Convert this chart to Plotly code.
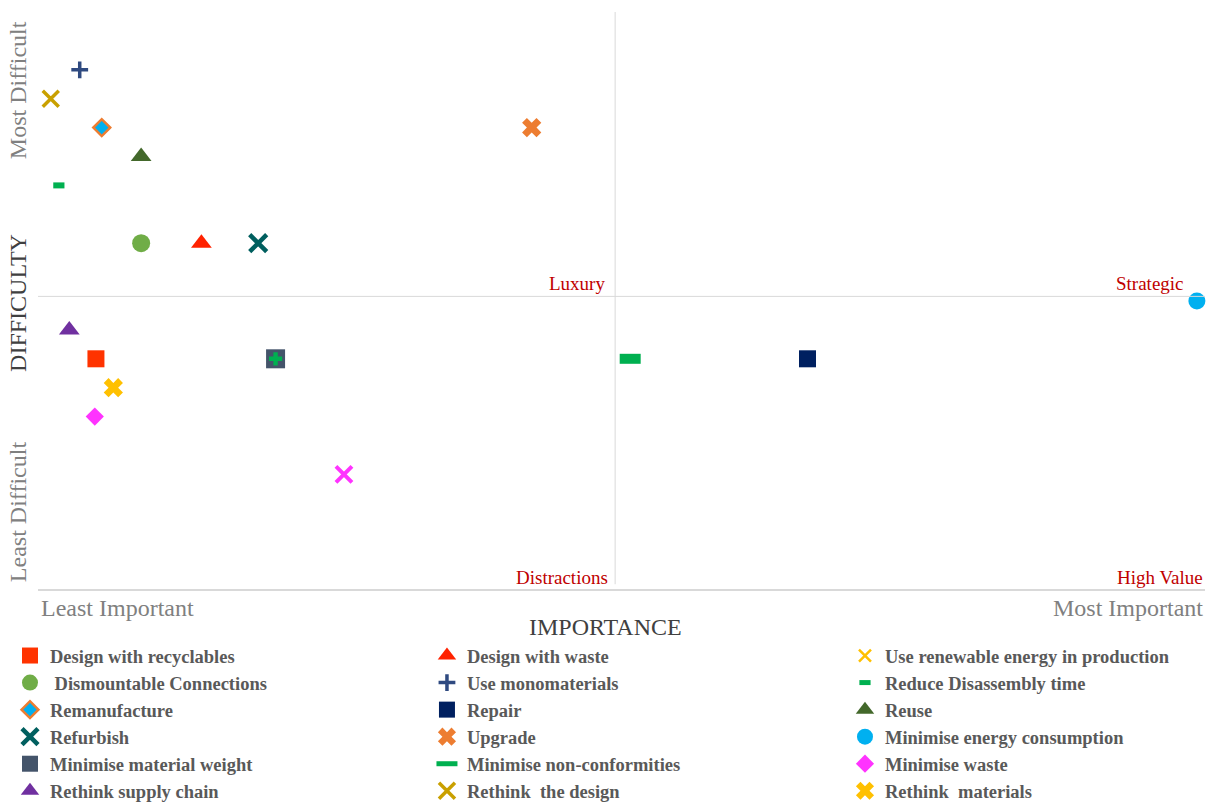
import plotly.graph_objects as go

# Strategy names (legend order, row by row)
names = [
    "Design with recyclables", "Design with waste", "Use renewable energy in production",
    " Dismountable Connections", "Use monomaterials", "Reduce Disassembly time",
    "Remanufacture", "Repair", "Reuse",
    "Refurbish", "Upgrade", "Minimise energy consumption",
    "Minimise material weight", "Minimise non-conformities", "Minimise waste",
    "Rethink supply chain", "Rethink  the design", "Rethink  materials",
]
# Importance (x) and difficulty (y) scores
importance = [0.50, 1.41, 2.64, 0.89, 0.36, 0.18, 0.55, 6.64, 0.89, 1.90, 4.26, 10.0,
              2.05, 5.11, 0.49, 0.27, 0.11, 0.65]
difficulty = [4.0, 6.0, 2.0, 6.0, 9.0, 7.0, 8.0, 4.0, 7.5, 6.0, 8.0, 5.0,
              4.0, 4.0, 3.0, 4.5, 8.5, 3.5]

# marker styles: symbol, size, fill, line colour, line width
styles = [
    ("square", 17, "#FF3300", "#FF3300", 0),
    ("triangle-up", 18, "#FF2200", "#FF2200", 0),
    ("x-thin-open", 16, "#FF33FF", "#FF33FF", 4),
    ("circle", 18, "#70AD47", "#70AD47", 0),
    ("cross-thin-open", 12, "#2F4A80", "#2F4A80", 3.5),
    ("line-ew-open", 8, "#00B050", "#00B050", 6),
    ("diamond", 13, "#00B0F0", "#ED7D31", 2.5),
    ("square", 17, "#002060", "#002060", 0),
    ("triangle-up", 18, "#43682B", "#43682B", 0),
    ("x-thin-open", 17, "#005F5F", "#005F5F", 4.5),
    ("x", 17, "#ED7D31", "#ED7D31", 0),
    ("circle", 17, "#00B0F0", "#00B0F0", 0),
    ("square", 19, "#44546A", "#44546A", 0),
    ("line-ew-open", 15, "#00B050", "#00B050", 10),
    ("diamond", 14, "#FF33FF", "#FF33FF", 0),
    ("triangle-up", 18, "#7030A0", "#7030A0", 0),
    ("x-thin-open", 16, "#C9A000", "#C9A000", 3.5),
    ("x", 17, "#FFC000", "#FFC000", 0),
]

legend_ids = ["legend", "legend2", "legend3"]
fig = go.Figure()

for i, (name, xv, yv, st) in enumerate(zip(names, importance, difficulty, styles)):
    sym, size, fill, lc, lw = st
    leg = legend_ids[i % 3]
    marker = dict(symbol=sym, size=size, color=fill, line=dict(color=lc, width=lw))
    if name.startswith("Use renewable"):
        # the point itself, drawn in magenta
        fig.add_trace(go.Scatter(
            x=[xv], y=[yv], mode="markers", name=name, showlegend=False,
            legendgroup=f"g{i}", marker=marker, cliponaxis=False))
        # legend key in the series colour
        fig.add_trace(go.Scatter(
            x=[None], y=[None], mode="markers", name=name, legend=leg,
            legendgroup=f"g{i}",
            marker=dict(symbol="x-thin-open", size=12, color="#FFC000",
                        line=dict(color="#FFC000", width=2.5))))
        continue
    fig.add_trace(go.Scatter(
        x=[xv], y=[yv], mode="markers", name=name, legend=leg,
        legendgroup=f"g{i}", marker=marker, cliponaxis=False))
    if name == "Minimise material weight":
        # green cross drawn over the slate square
        fig.add_trace(go.Scatter(
            x=[xv], y=[yv], mode="markers", name=name, showlegend=False,
            legendgroup=f"g{i}", cliponaxis=False,
            marker=dict(symbol="cross", size=11, color="#00B050", line=dict(width=0))))

serif = "Liberation Serif"
grid = "#D9D9D9"

# quadrant divider lines and bottom axis line
fig.add_shape(type="line", xref="x", yref="paper", x0=4.98, x1=4.98, y0=0.01, y1=1,
              line=dict(color=grid, width=1))
fig.add_shape(type="line", xref="paper", yref="y", x0=0, x1=1, y0=5.08, y1=5.08,
              line=dict(color=grid, width=1))
fig.add_shape(type="line", xref="paper", yref="paper", x0=0, x1=1, y0=0, y1=0,
              line=dict(color=grid, width=2))

quad = dict(font=dict(family=serif, size=19, color="#C00000"), showarrow=False)
fig.add_annotation(text="Luxury", xref="x", yref="y", x=4.91, y=5.08,
                   xanchor="right", yanchor="bottom", **quad)
fig.add_annotation(text="Strategic", xref="paper", yref="y", x=0.984, y=5.08,
                   xanchor="right", yanchor="bottom", **quad)
fig.add_annotation(text="Distractions", xref="x", yref="paper", x=4.94, y=0.0,
                   xanchor="right", yanchor="bottom", **quad)
fig.add_annotation(text="High Value", xref="paper", yref="paper", x=1.0, y=0.0,
                   xanchor="right", yanchor="bottom", **quad)

gray = dict(family=serif, size=24, color="#808080")
fig.add_annotation(text="Least Important", xref="paper", yref="paper", x=0.001, y=-0.031,
                   xanchor="left", yanchor="middle", showarrow=False, font=gray)
fig.add_annotation(text="Most Important", xref="paper", yref="paper", x=1.0, y=-0.031,
                   xanchor="right", yanchor="middle", showarrow=False, font=gray)
fig.add_annotation(text="Most Difficult", xref="paper", yref="paper", x=-0.017, y=0.865,
                   textangle=-90, xanchor="center", yanchor="middle", showarrow=False, font=gray)
fig.add_annotation(text="Least Difficult", xref="paper", yref="paper", x=-0.017, y=0.135,
                   textangle=-90, xanchor="center", yanchor="middle", showarrow=False, font=gray)

title_font = dict(family=serif, size=24, color="#404040")
fig.add_annotation(text="IMPORTANCE", xref="paper", yref="paper", x=0.486, y=-0.064,
                   xanchor="center", yanchor="middle", showarrow=False, font=title_font)
fig.add_annotation(text="DIFFICULTY", xref="paper", yref="paper", x=-0.017, y=0.497,
                   textangle=-90, xanchor="center", yanchor="middle", showarrow=False,
                   font=title_font)

# legends sit in the bottom band below the plot area
legend_top_px = 637
legend_common = dict(
    orientation="v", xref="paper", yref="container",
    yanchor="top", y=1 - legend_top_px / 804, xanchor="left",
    font=dict(family=serif, size=18.5, color="#595959", weight="bold"),
    bgcolor="rgba(0,0,0,0)", itemwidth=30, tracegroupgap=0,
    itemclick=False, itemdoubleclick=False,
)

fig.update_layout(
    width=1225, height=804,
    margin=dict(l=38, r=20, t=12, b=214),
    paper_bgcolor="white", plot_bgcolor="white",
    xaxis=dict(range=[0, 10.07], visible=False, showgrid=False, zeroline=False),
    yaxis=dict(range=[0, 10], visible=False, showgrid=False, zeroline=False),
    legend=dict(x=-0.024, **legend_common),
    legend2=dict(x=0.3333, **legend_common),
    legend3=dict(x=0.6915, **legend_common),
)

fig.write_html("out.html")
